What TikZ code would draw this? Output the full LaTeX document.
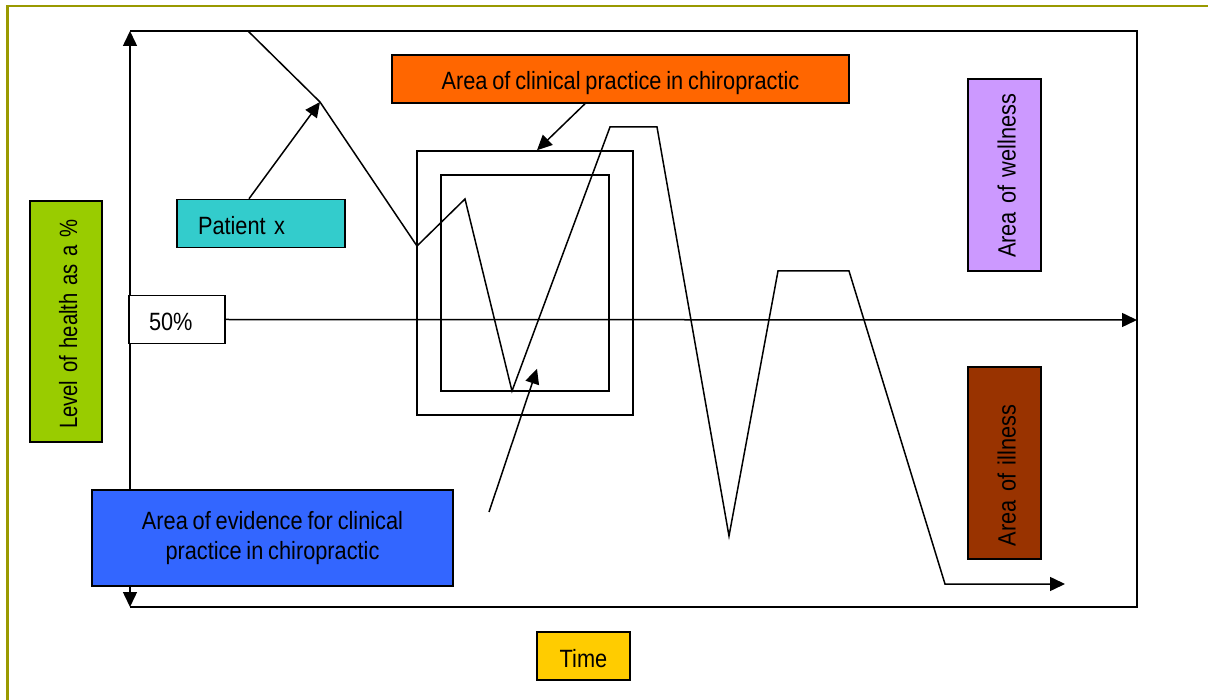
\documentclass[tikz,border=0pt]{standalone}
\usepackage{fontspec}
\setmainfont{Liberation Sans}[FakeStretch=0.87,WordSpace=0.8]
\usetikzlibrary{arrows.meta}
\definecolor{frameolive}{HTML}{999900}
\definecolor{healthgreen}{HTML}{99CC00}
\definecolor{patientcyan}{HTML}{33CCCC}
\definecolor{clinorange}{HTML}{FF6600}
\definecolor{evidblue}{HTML}{3366FF}
\definecolor{wellviolet}{HTML}{CC99FF}
\definecolor{illbrown}{HTML}{993300}
\definecolor{timegold}{HTML}{FFCC00}
\begin{document}
\begin{tikzpicture}[x=1pt,y=-1pt,line join=miter,
  lin/.style={line width=1.5pt},
  tip/.tip={Triangle[length=15pt,width=14pt]},
  arr/.style={lin,-tip},
  box/.style={draw=black,line width=1.5pt,inner sep=0pt,
    font=\fontsize{25}{30}\selectfont},
  oneline/.style={box,text height=22pt,text depth=0pt},
  sidebox/.style={oneline,rotate=90,align=left,inner xsep=13pt}]
\useasboundingbox (0,0) rectangle (1208,700);
% page frame
\draw[frameolive,line width=2.5pt] (7.5,6) rectangle (1240,730);

% chart frame and health axis
\coordinate (tl) at (130,31);
\coordinate (tr) at (1137,31);
\coordinate (br) at (1137,607);
\coordinate (bl) at (130,607);
\coordinate (axisend) at (1137,320);
\draw[lin] (tl) -- (tr) -- (br) -- (bl);
\draw[lin,tip-tip] (tl) -- (bl);

% nested practice / evidence frames
\node[draw,lin,minimum width=216pt,minimum height=264pt] (outer) at (525,283) {};
\node[draw,lin,minimum width=168pt,minimum height=216pt] (inner) at (525,283) {};

% patient trajectory
\coordinate (p0) at (248,31);
\coordinate (p1) at (320,102);
\coordinate (p2) at (417,246);
\coordinate (p3) at (465,199);
\coordinate (p4) at (512,391);
\coordinate (p5) at (610,127);
\coordinate (p6) at (657,127);
\coordinate (p7) at (729,536);
\coordinate (p8) at (778,271);
\coordinate (p9) at (849,271);
\coordinate (p10) at (945,584);
\coordinate (p11) at (1065,584);
\draw[arr] (p0) -- (p1) -- (p2) -- (p3) -- (p4) -- (p5) -- (p6) -- (p7)
  -- (p8) -- (p9) -- (p10) -- (p11);

% labels
\node[sidebox,fill=healthgreen,minimum width=241pt,minimum height=72pt,
  text width=215pt] (health) at (66,321.5) {\scalebox{0.93}[1]{Level of health as a \%}};
\node[oneline,fill=patientcyan,minimum width=168pt,minimum height=48pt,
  inner xsep=21pt,text width=126pt,align=left] (patient) at (261,223.5) {Patient x};
\node[oneline,fill=white,minimum width=96pt,minimum height=48pt,
  inner xsep=20pt,text width=56pt,align=left] (pct) at (177,319.5) {50\%};
\node[oneline,fill=clinorange,minimum width=457pt,minimum height=48pt] (clin)
  at (620.5,79) {Area of clinical practice in chiropractic};
\node[box,fill=evidblue,minimum width=361pt,minimum height=96pt,align=center]
  (evid) at (272.5,538) {\raisebox{4pt}{\begin{tabular}{@{}c@{}}Area of evidence for clinical\\[0pt]practice in chiropractic\end{tabular}}};
\node[sidebox,fill=wellviolet,minimum width=192pt,minimum height=73pt,
  text width=166pt] (well) at (1004.5,175) {\mbox{Area of wellness}};
\node[sidebox,fill=illbrown,minimum width=192pt,minimum height=73pt,
  text width=166pt] (ill) at (1004.5,463) {\mbox{Area of illness}};
\node[oneline,fill=timegold,minimum width=93pt,minimum height=48pt] (time)
  at (583.5,656) {Time};

% pointers
\coordinate (evtail) at (489,512);
\draw[arr] (pct.east) -- (axisend);
\draw[arr] ([xshift=-12pt]patient.north) -- (p1);
\draw[arr] ([xshift=-35.5pt]clin.south) -- ([xshift=12pt]outer.north);
\draw[arr] (evtail) -- ([xshift=12pt,yshift=23pt]inner.south);
\end{tikzpicture}
\end{document}
